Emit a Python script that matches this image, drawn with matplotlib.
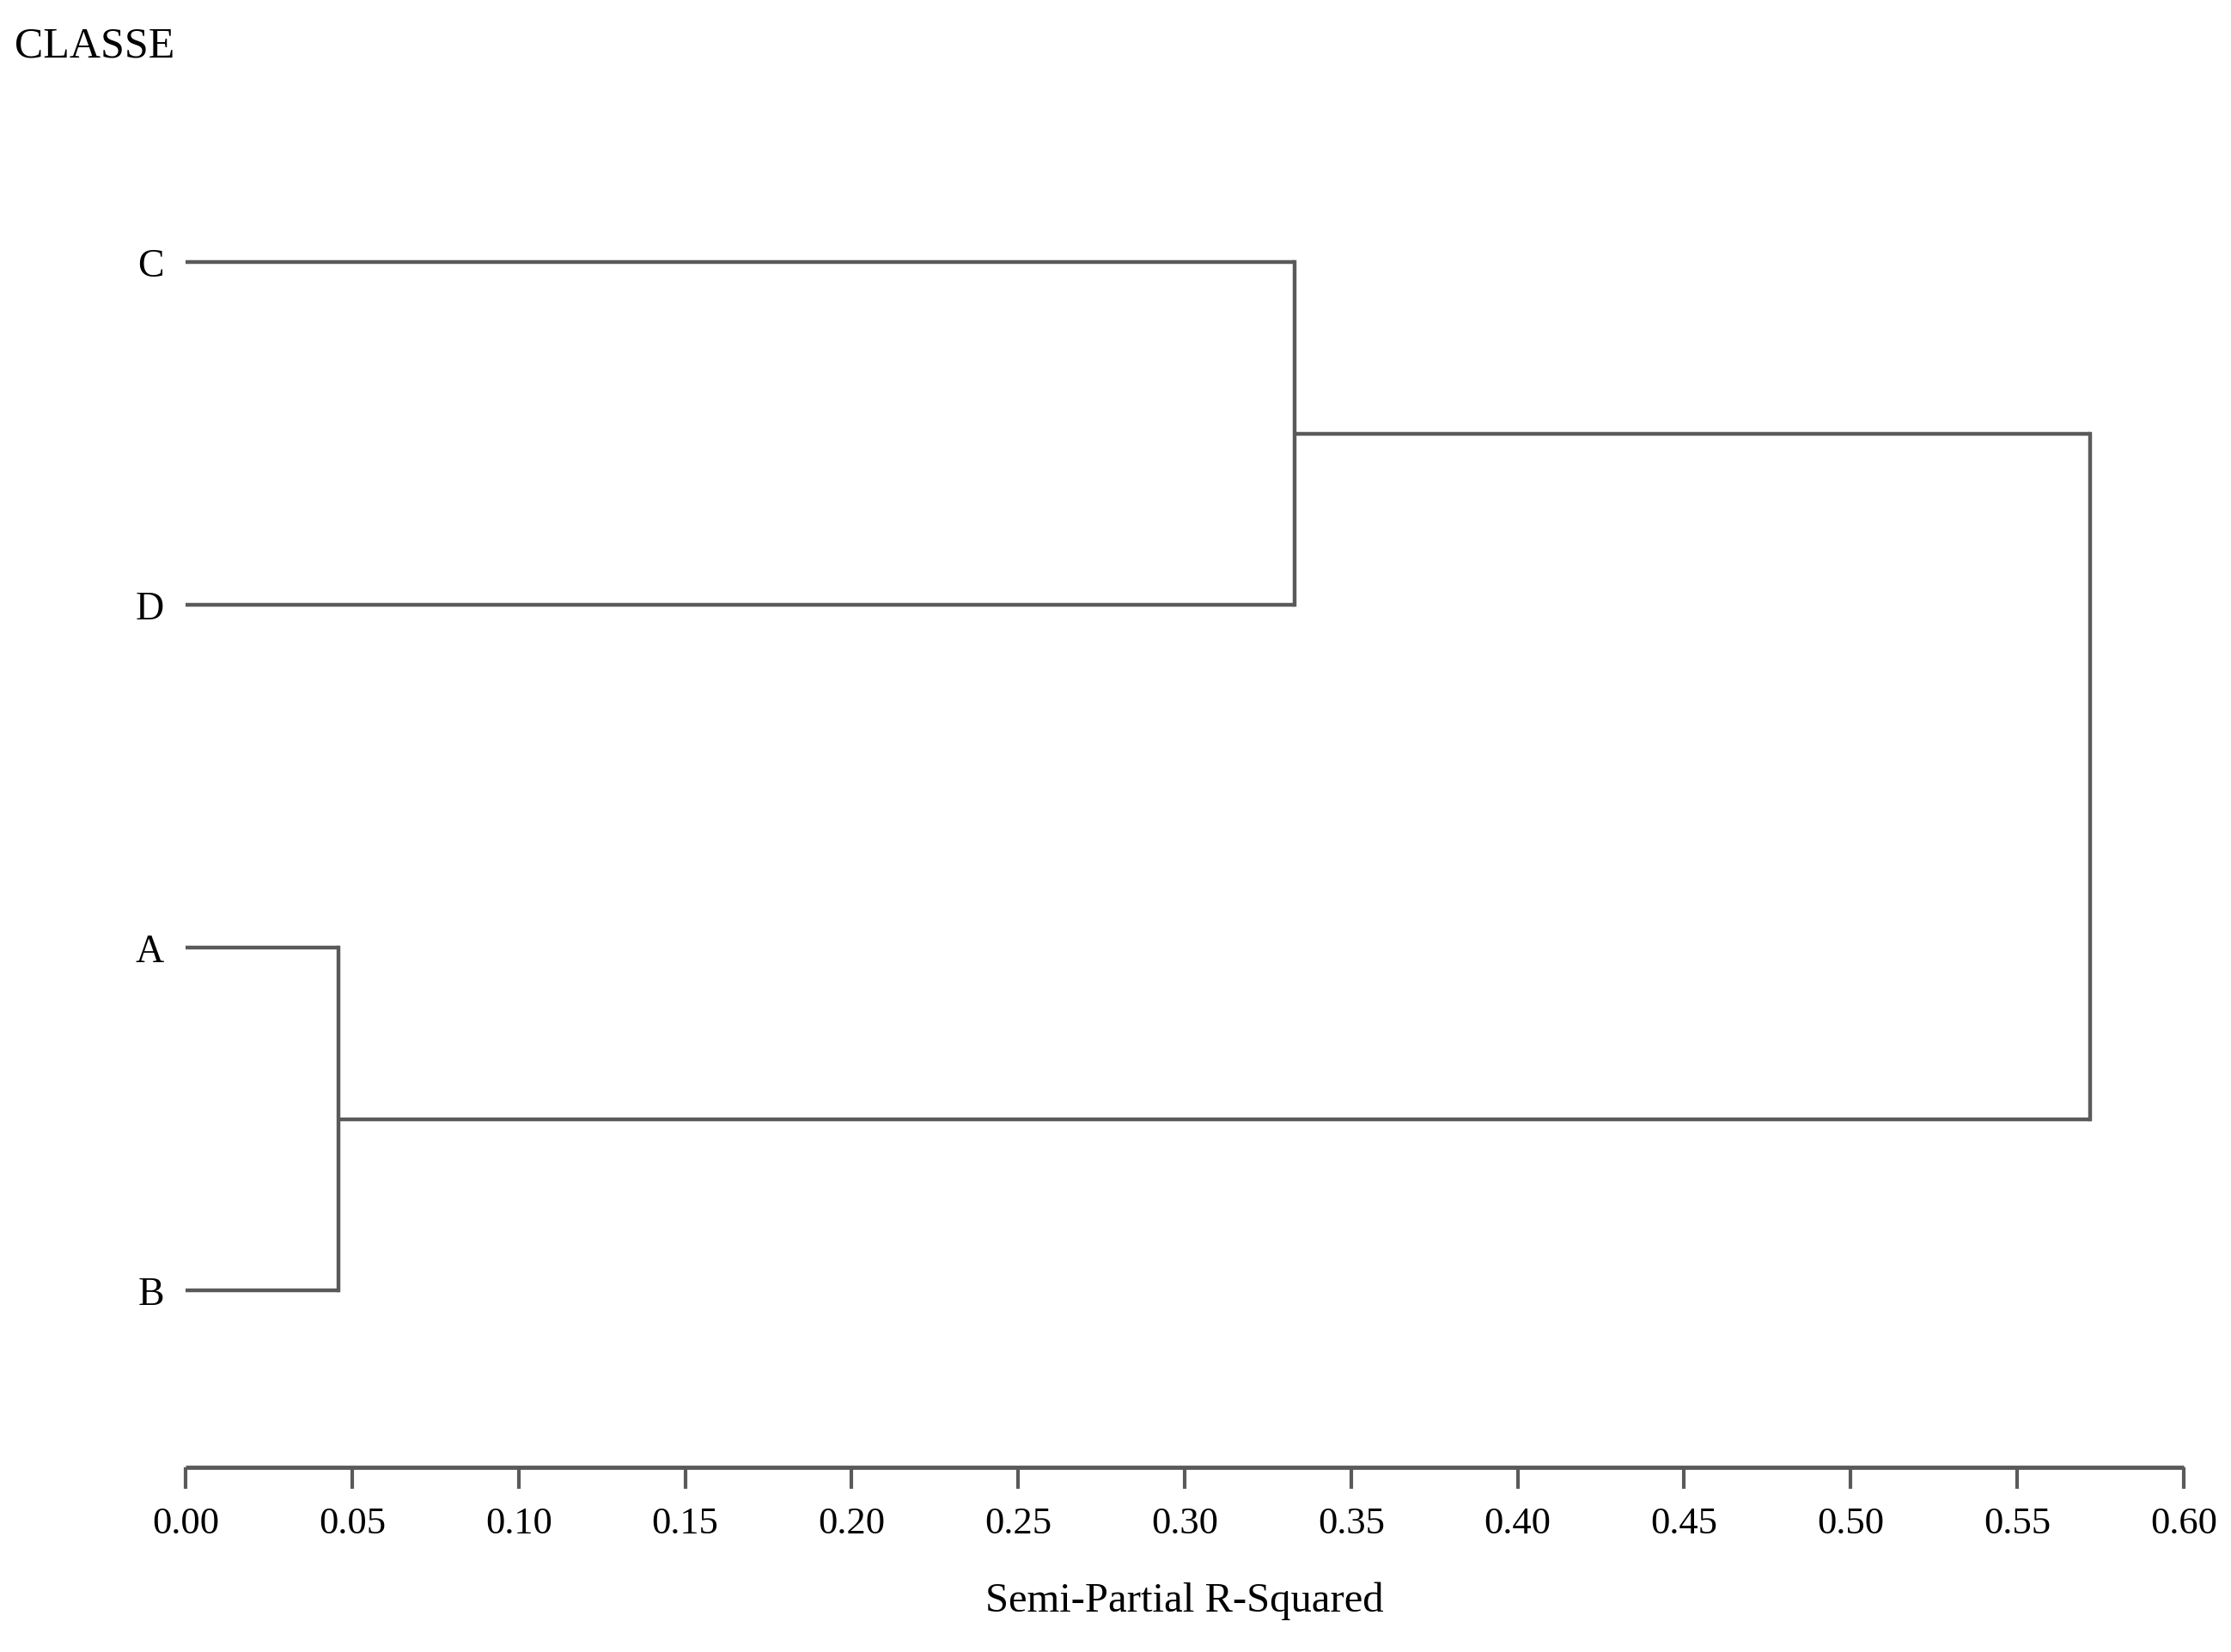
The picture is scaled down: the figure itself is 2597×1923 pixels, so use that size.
import matplotlib.pyplot as plt
import numpy as np

# leaves, top to bottom as in the tree
leaves = ['C', 'D', 'A', 'B']
# merges: (left cluster, right cluster, semi-partial R-squared)
merges = [('A', 'B', 0.046), ('C', 'D', 0.333), ('CD', 'AB', 0.572)]
xticks = np.arange(0, 0.61, 0.05)

plt.rcParams['font.family'] = ['Liberation Serif', 'DejaVu Serif']

fig = plt.figure(figsize=(25.97, 19.24), dpi=100)
ax = fig.add_axes([0.0832, 0.112, 0.8956, 0.8326])

line_col = '#5a5a5a'
lw = 3.2

# y position and height of each node
ypos = {name: len(leaves) - 1 - i for i, name in enumerate(leaves)}
hgt = {name: 0.0 for name in leaves}

for a, b, h in merges:
    for n in (a, b):
        ax.plot([hgt[n], h], [ypos[n], ypos[n]], color=line_col, lw=lw, solid_capstyle='butt')
    ax.plot([h, h], [ypos[a], ypos[b]], color=line_col, lw=lw, solid_capstyle='projecting')
    new = a + b
    ypos[new] = (ypos[a] + ypos[b]) / 2
    hgt[new] = h

ax.set_xlim(0, 0.6)
ax.set_ylim(-0.515, 3.5)

ax.set_xticks(xticks)
ax.set_xticklabels(['%.2f' % t for t in xticks], fontsize=32)
ax.set_yticks([ypos[n] for n in leaves])
ax.set_yticklabels(leaves, fontsize=33)

ax.tick_params(axis='x', length=18, width=3, color=line_col, pad=15)
ax.tick_params(axis='y', length=0, pad=18)

for s in ['top', 'right', 'left']:
    ax.spines[s].set_visible(False)
ax.spines['bottom'].set_color(line_col)
ax.spines['bottom'].set_linewidth(3.5)
ax.spines['bottom'].set_capstyle('butt')

ax.set_xlabel('Semi-Partial R-Squared', fontsize=35, labelpad=34)

fig.text(0.0065, 0.972, 'CLASSE', fontsize=36, ha='left', va='center')

plt.savefig('out.png', dpi=100, facecolor='white')
